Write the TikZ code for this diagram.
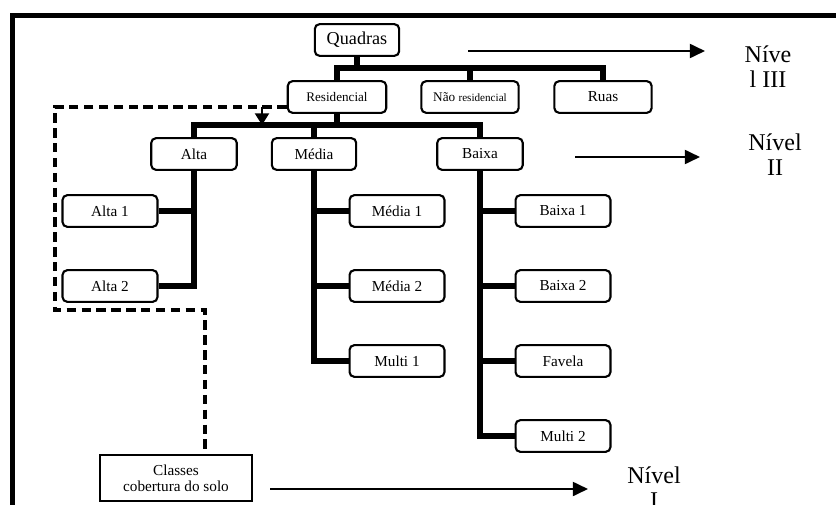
\documentclass[tikz,border=0pt]{standalone}
\usepackage{fontspec}
\setmainfont{Liberation Serif}
\usetikzlibrary{arrows.meta}

\begin{document}
\begin{tikzpicture}[x=0.03cm,y=-0.03cm]
\tikzstyle{box}=[draw,line width=1.8pt,rounded corners=4pt,inner sep=0pt,minimum height=27pt,font=\fontsize{13}{15}\selectfont]
\tikzstyle{bar}=[line width=4.3pt]
\tikzstyle{level}=[line width=1.9pt,-{Triangle[length=13pt,width=12pt]}]
\tikzstyle{lvltext}=[align=center,inner sep=0pt,font=\fontsize{20.5}{21.5}\selectfont]
\tikzstyle{dline}=[line width=3pt,dash pattern=on 8pt off 4.7pt]

\clip (0,0) rectangle (836,505);
\draw[line width=4.3pt] (12.5,15.8) rectangle (900,560);

% level III
\node[box,minimum width=72pt,font=\fontsize{15.5}{17}\selectfont] (quadras) at (357,40) {Quadras};
\node[box,minimum width=84pt,font=\fontsize{11.2}{13}\selectfont] (res) at (337,97) {Residencial};
\node[box,minimum width=83pt,font=\fontsize{11.3}{13}\selectfont] (nres) at (470,97) {Não {\fontsize{9.5}{11}\selectfont residencial}};
\node[box,minimum width=83pt] (ruas) at (603,97) {Ruas};

% level II
\node[box,minimum width=73pt] (alta) at (194,154) {Alta};
\node[box,minimum width=72pt] (media) at (314,154) {Média};
\node[box,minimum width=73pt] (baixa) at (480,154) {Baixa};

% level I
\node[box,minimum width=81pt] (alta1) at (110,211) {Alta 1};
\node[box,minimum width=81pt] (alta2) at (110,286) {Alta 2};
\node[box,minimum width=81pt] (media1) at (397,211) {Média 1};
\node[box,minimum width=81pt] (media2) at (397,286) {Média 2};
\node[box,minimum width=81pt] (multi1) at (397,361) {Multi 1};
\node[box,minimum width=81pt] (baixa1) at (563,211) {Baixa 1};
\node[box,minimum width=81pt] (baixa2) at (563,286) {Baixa 2};
\node[box,minimum width=81pt] (favela) at (563,361) {Favela};
\node[box,minimum width=81pt] (multi2) at (563,436) {Multi 2};

\node[draw,line width=1.8pt,minimum width=129pt,minimum height=40pt,inner sep=0pt,align=center,
      font=\fontsize{13}{13.5}\selectfont] (cls) at (176,478) {Classes\\cobertura do solo};

% tree
\coordinate (j3) at (0,68);
\coordinate (j2) at (0,125);
\draw[bar] (quadras.south) -- (quadras.south |- j3);
\draw[bar] (res.north) -- (res.north |- j3) -| (ruas.north);
\draw[bar] (nres.north) -- (nres.north |- j3);
\draw[bar] (res.south) -- (res.south |- j2);
\draw[bar] (alta.north) -- (alta.north |- j2) -| (baixa.north);
\draw[bar] (media.north) -- (media.north |- j2);

\draw[bar] (alta.south) |- (alta2.east);
\draw[bar] (alta1.east) -- (alta1.east -| alta.south);
\draw[bar] (media.south) |- (multi1.west);
\foreach \n in {media1,media2}
  \draw[bar] (\n.west) -- (\n.west -| media.south);
\draw[bar] (baixa.south) |- (multi2.west);
\foreach \n in {baixa1,baixa2,favela}
  \draw[bar] (\n.west) -- (\n.west -| baixa.south);

% dashed link to the land cover classes
\coordinate (dtl) at (55,107);
\coordinate (dbl) at (55,310);
\coordinate (dbr) at (205,310);
\coordinate (dtip) at (262,107);
\draw[dline] (res.west |- dtl) -- (dtl) -- (dbl) -- (dbr) -- (dbr |- cls.north);
\draw[line width=1.8pt,-{Triangle[length=10pt,width=12pt]}] (dtip) -- (dtip |- j2);

% levels
\node[lvltext] (lvl3) at (768,67) {Níve\\l III};
\node[lvltext] (lvl2) at (775,155) {Nível\\II};
\node[lvltext] (lvl1) at (654,488) {Nível\\I};
\coordinate (a3s) at (468,51);
\coordinate (a3e) at (705,51);
\coordinate (a2s) at (575,157);
\coordinate (a2e) at (700,157);
\coordinate (a1s) at (270,489);
\coordinate (a1e) at (588,489);
\draw[level] (a3s) -- (a3e);
\draw[level] (a2s) -- (a2e);
\draw[level] (a1s) -- (a1e);
\end{tikzpicture}
\end{document}
